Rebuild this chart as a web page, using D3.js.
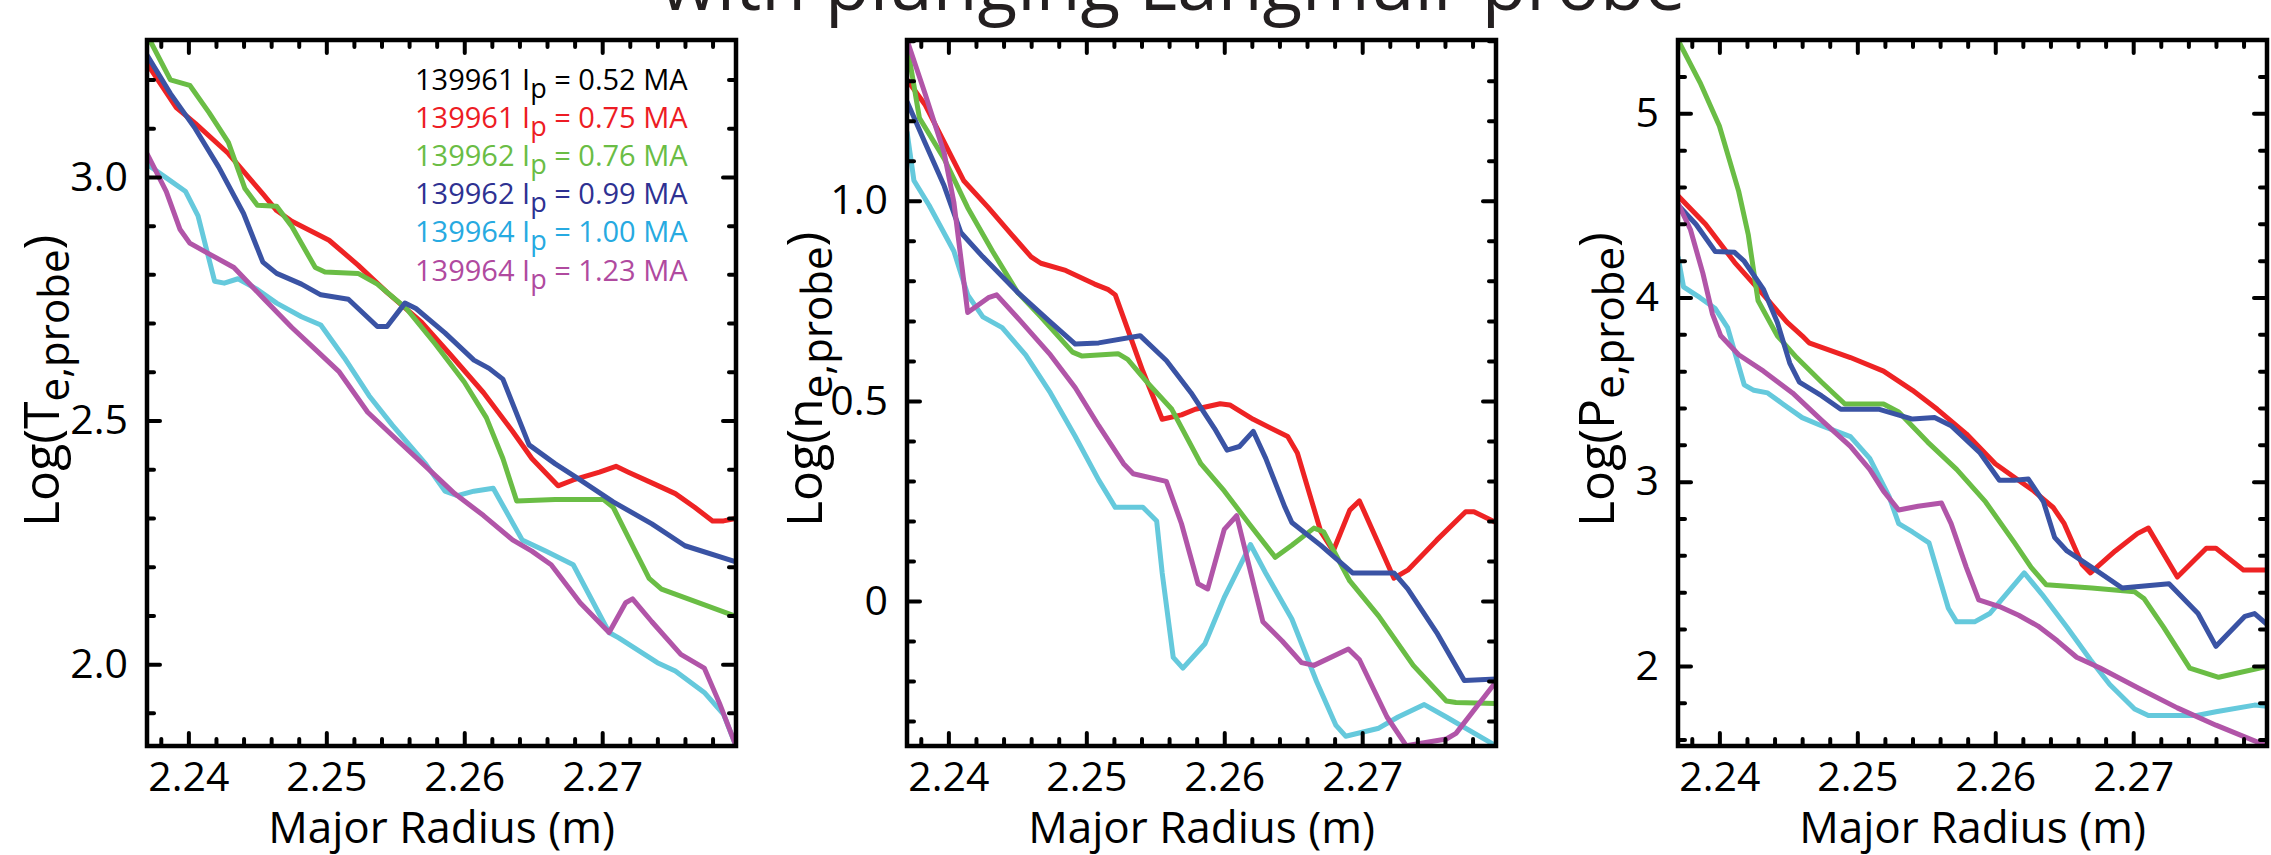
<!DOCTYPE html>
<html>
<head>
<meta charset="utf-8">
<script src="https://cdn.jsdelivr.net/npm/d3@7"></script>
<style>
  body { margin: 0; background: #fff; }
  svg { display: block; font-family: "Open Sans", sans-serif; }
</style>
</head>
<body>
<svg id="chart" width="2271" height="855"></svg>
<script>
// Legend entries (the 0.52 MA shot has no curve in the panels)
const shots = ["139961", "139961", "139962", "139962", "139964", "139964"];
const currents = ["0.52", "0.75", "0.76", "0.99", "1.00", "1.23"];
const legendColors = ["#000000", "#ed1c24", "#6abd45", "#2e3192", "#27aae1", "#b04a9f"];
const lineColors = ["#ee2324", "#6abd45", "#3a53a4", "#65c9dc", "#b155a8"];

// Tick values
const xMajor = [2.24, 2.25, 2.26, 2.27];
const teMajor = [2.0, 2.5, 3.0];
const neMajor = [0, 0.5, 1.0];
const peMajor = [2, 3, 4, 5];

// Log(Te,probe) vs major radius
const teRed = [[2.2370,3.233],[2.2391,3.143],[2.2405,3.110],[2.2429,3.048],[2.2454,2.965],[2.2464,2.931],[2.2475,2.909],[2.2502,2.870],[2.2523,2.819],[2.2544,2.763],[2.2569,2.702],[2.2590,2.635],[2.2614,2.557],[2.2635,2.478],[2.2649,2.422],[2.2668,2.366],[2.2679,2.378],[2.2698,2.394],[2.2710,2.406],[2.2719,2.394],[2.2736,2.372],[2.2753,2.350],[2.2767,2.322],[2.2780,2.294],[2.2788,2.294],[2.2797,2.299]];
const teGreen = [[2.2372,3.281],[2.2387,3.199],[2.2401,3.188],[2.2415,3.132],[2.2429,3.071],[2.2441,2.976],[2.2450,2.942],[2.2464,2.940],[2.2475,2.898],[2.2492,2.814],[2.2499,2.805],[2.2523,2.802],[2.2537,2.780],[2.2558,2.730],[2.2579,2.657],[2.2600,2.579],[2.2616,2.506],[2.2628,2.422],[2.2638,2.335],[2.2666,2.338],[2.2701,2.338],[2.2708,2.322],[2.2722,2.243],[2.2734,2.176],[2.2743,2.154],[2.2797,2.098]];
const teBlue = [[2.2370,3.250],[2.2387,3.171],[2.2405,3.099],[2.2422,3.020],[2.2440,2.925],[2.2454,2.825],[2.2464,2.802],[2.2482,2.780],[2.2496,2.758],[2.2516,2.749],[2.2537,2.693],[2.2544,2.693],[2.2557,2.741],[2.2565,2.730],[2.2586,2.680],[2.2607,2.624],[2.2618,2.607],[2.2628,2.585],[2.2647,2.450],[2.2666,2.411],[2.2684,2.378],[2.2708,2.333],[2.2736,2.288],[2.2760,2.243],[2.2797,2.210]];
const teCyan = [[2.2370,3.026],[2.2384,2.998],[2.2398,2.970],[2.2407,2.920],[2.2419,2.786],[2.2426,2.782],[2.2436,2.791],[2.2450,2.769],[2.2464,2.741],[2.2482,2.713],[2.2496,2.696],[2.2513,2.629],[2.2531,2.551],[2.2548,2.490],[2.2572,2.411],[2.2586,2.355],[2.2595,2.346],[2.2607,2.355],[2.2621,2.361],[2.2642,2.255],[2.2659,2.232],[2.2679,2.204],[2.2705,2.065],[2.2712,2.054],[2.2740,2.003],[2.2753,1.986],[2.2774,1.942],[2.2788,1.897],[2.2797,1.832]];
const teMagenta = [[2.2370,3.048],[2.2384,2.970],[2.2394,2.892],[2.2401,2.864],[2.2415,2.842],[2.2433,2.814],[2.2454,2.752],[2.2475,2.691],[2.2492,2.646],[2.2509,2.601],[2.2530,2.517],[2.2551,2.461],[2.2572,2.406],[2.2593,2.350],[2.2614,2.305],[2.2635,2.255],[2.2649,2.232],[2.2663,2.204],[2.2684,2.126],[2.2705,2.065],[2.2717,2.126],[2.2722,2.134],[2.2736,2.087],[2.2757,2.020],[2.2774,1.992],[2.2785,1.920],[2.2797,1.832]];

// Log(ne,probe) vs major radius
const neRed = [[2.2370,1.303],[2.2383,1.241],[2.2397,1.146],[2.2411,1.051],[2.2429,0.983],[2.2446,0.915],[2.2460,0.860],[2.2467,0.844],[2.2485,0.826],[2.2506,0.792],[2.2516,0.778],[2.2521,0.765],[2.2541,0.574],[2.2555,0.454],[2.2569,0.465],[2.2579,0.479],[2.2597,0.493],[2.2604,0.490],[2.2621,0.454],[2.2646,0.411],[2.2653,0.370],[2.2670,0.173],[2.2679,0.125],[2.2691,0.227],[2.2698,0.250],[2.2723,0.057],[2.2733,0.077],[2.2754,0.152],[2.2775,0.223],[2.2781,0.223],[2.2797,0.196]];
const neGreen = [[2.2370,1.391],[2.2379,1.207],[2.2397,1.105],[2.2414,0.983],[2.2432,0.874],[2.2450,0.772],[2.2467,0.710],[2.2490,0.622],[2.2497,0.612],[2.2523,0.618],[2.2530,0.604],[2.2544,0.547],[2.2562,0.479],[2.2583,0.343],[2.2600,0.275],[2.2618,0.193],[2.2637,0.109],[2.2649,0.139],[2.2665,0.182],[2.2672,0.173],[2.2691,0.050],[2.2712,-0.038],[2.2737,-0.161],[2.2761,-0.250],[2.2768,-0.254],[2.2797,-0.256]];
const neBlue = [[2.2370,1.248],[2.2383,1.146],[2.2397,1.037],[2.2409,0.921],[2.2425,0.860],[2.2450,0.772],[2.2474,0.697],[2.2492,0.642],[2.2509,0.645],[2.2539,0.663],[2.2558,0.601],[2.2576,0.520],[2.2593,0.431],[2.2602,0.377],[2.2611,0.386],[2.2621,0.424],[2.2630,0.357],[2.2644,0.234],[2.2649,0.196],[2.2670,0.139],[2.2693,0.070],[2.2723,0.070],[2.2733,0.030],[2.2754,-0.079],[2.2774,-0.199],[2.2797,-0.195]];
const neCyan = [[2.2370,1.173],[2.2375,1.051],[2.2386,0.989],[2.2404,0.874],[2.2414,0.765],[2.2425,0.710],[2.2439,0.683],[2.2456,0.615],[2.2474,0.520],[2.2492,0.411],[2.2509,0.302],[2.2521,0.234],[2.2541,0.234],[2.2551,0.200],[2.2555,0.070],[2.2563,-0.141],[2.2570,-0.168],[2.2586,-0.107],[2.2600,0.009],[2.2619,0.141],[2.2630,0.070],[2.2649,-0.045],[2.2667,-0.202],[2.2681,-0.311],[2.2688,-0.338],[2.2712,-0.318],[2.2726,-0.290],[2.2745,-0.259],[2.2761,-0.290],[2.2797,-0.362]];
const neMagenta = [[2.2370,1.402],[2.2383,1.269],[2.2397,1.119],[2.2404,0.996],[2.2414,0.721],[2.2429,0.758],[2.2435,0.765],[2.2453,0.697],[2.2474,0.615],[2.2492,0.533],[2.2509,0.438],[2.2527,0.343],[2.2534,0.318],[2.2558,0.299],[2.2569,0.193],[2.2581,0.043],[2.2588,0.030],[2.2600,0.179],[2.2609,0.213],[2.2628,-0.052],[2.2642,-0.100],[2.2656,-0.154],[2.2665,-0.161],[2.2690,-0.120],[2.2698,-0.147],[2.2718,-0.290],[2.2732,-0.362],[2.2761,-0.345],[2.2768,-0.331],[2.2797,-0.202]];

// Log(Pe,probe) vs major radius
const peRed = [[2.2370,4.552],[2.2390,4.398],[2.2411,4.191],[2.2432,4.014],[2.2449,3.866],[2.2460,3.792],[2.2465,3.754],[2.2495,3.674],[2.2519,3.600],[2.2540,3.496],[2.2558,3.393],[2.2579,3.260],[2.2600,3.097],[2.2614,3.023],[2.2628,2.949],[2.2642,2.860],[2.2650,2.772],[2.2663,2.550],[2.2669,2.505],[2.2687,2.624],[2.2703,2.718],[2.2711,2.748],[2.2732,2.482],[2.2753,2.639],[2.2760,2.639],[2.2780,2.520],[2.2797,2.520]];
const peGreen = [[2.2370,5.398],[2.2386,5.167],[2.2400,4.931],[2.2414,4.576],[2.2421,4.339],[2.2428,3.984],[2.2442,3.792],[2.2456,3.674],[2.2474,3.541],[2.2491,3.422],[2.2519,3.422],[2.2530,3.378],[2.2551,3.215],[2.2572,3.067],[2.2593,2.890],[2.2614,2.668],[2.2626,2.535],[2.2637,2.440],[2.2670,2.423],[2.2701,2.402],[2.2708,2.364],[2.2722,2.210],[2.2741,1.988],[2.2762,1.938],[2.2797,1.997]];
const peBlue = [[2.2370,4.502],[2.2383,4.398],[2.2397,4.250],[2.2411,4.245],[2.2418,4.197],[2.2432,4.044],[2.2442,3.866],[2.2451,3.644],[2.2458,3.541],[2.2474,3.467],[2.2488,3.393],[2.2516,3.393],[2.2540,3.340],[2.2556,3.348],[2.2568,3.304],[2.2589,3.156],[2.2603,3.008],[2.2614,3.008],[2.2624,3.014],[2.2635,2.890],[2.2643,2.698],[2.2652,2.624],[2.2670,2.535],[2.2692,2.423],[2.2726,2.446],[2.2747,2.284],[2.2760,2.106],[2.2781,2.269],[2.2788,2.284],[2.2797,2.225]];
const peCyan = [[2.2370,4.221],[2.2374,4.058],[2.2386,3.999],[2.2397,3.940],[2.2406,3.836],[2.2418,3.526],[2.2425,3.496],[2.2435,3.482],[2.2446,3.422],[2.2460,3.348],[2.2474,3.304],[2.2495,3.245],[2.2509,3.127],[2.2523,2.920],[2.2530,2.772],[2.2540,2.727],[2.2552,2.668],[2.2566,2.313],[2.2572,2.239],[2.2585,2.239],[2.2596,2.284],[2.2621,2.505],[2.2634,2.387],[2.2652,2.210],[2.2669,2.033],[2.2683,1.899],[2.2701,1.766],[2.2711,1.731],[2.2746,1.731],[2.2760,1.751],[2.2788,1.787],[2.2797,1.781]];
const peMagenta = [[2.2370,4.511],[2.2379,4.369],[2.2388,4.132],[2.2395,3.910],[2.2401,3.792],[2.2414,3.689],[2.2432,3.600],[2.2453,3.482],[2.2474,3.334],[2.2495,3.192],[2.2509,3.067],[2.2519,2.949],[2.2530,2.846],[2.2544,2.867],[2.2561,2.884],[2.2568,2.772],[2.2579,2.535],[2.2588,2.358],[2.2603,2.322],[2.2617,2.275],[2.2631,2.216],[2.2645,2.136],[2.2659,2.047],[2.2676,1.988],[2.2704,1.879],[2.2732,1.772],[2.2760,1.678],[2.2797,1.565]];

// Layout
const panelTop = 40, panelW = 589, panelH = 706;
const labelFont = 41;

const panels = [
    { left: 147, letter: "T", series: [teRed, teGreen, teBlue, teCyan, teMagenta],
      yDomain: [1.832, 3.281], major: teMajor, minorStep: 0.1, fmt: d3.format(".1f"), titleOffset: 88, legend: true },
    { left: 907, letter: "n", series: [neRed, neGreen, neBlue, neCyan, neMagenta],
      yDomain: [-0.3625, 1.402], major: neMajor, minorStep: 0.1, fmt: d => d === 0 ? "0" : d3.format(".1f")(d), titleOffset: 85 },
    { left: 1678, letter: "P", series: [peRed, peGreen, peBlue, peCyan, peMagenta],
      yDomain: [1.565, 5.398], major: peMajor, minorStep: 0.2, fmt: d3.format("d"), titleOffset: 64 }
];

const svg = d3.select("#chart");

// Title (only its lower part is inside the picture)
svg.append("text")
    .attr("x", 1173)
    .attr("y", 10)
    .attr("text-anchor", "middle")
    .attr("font-size", 73)
    .attr("fill", "#231f20")
    .text("with plunging Langmuir probe");

const xScale = d3.scaleLinear().domain([2.237, 2.2797]).range([0, panelW]);
const xMinor = d3.range(2.238, 2.2795, 0.002).filter(v => !xMajor.some(m => Math.abs(m - v) < 1e-6));

function styleAxis(g) {
    g.select(".domain").remove();
    g.selectAll("line")
        .attr("stroke", "#000")
        .attr("stroke-width", 4)
        .attr("stroke-linecap", "round");
    // drop the empty labels of the unlabelled tick sets
    g.selectAll("text").filter(function() { return this.textContent === ""; }).remove();
    g.selectAll("text")
        .attr("fill", "#000")
        .attr("font-size", labelFont)
        .attr("font-family", "'Open Sans', sans-serif");
}

panels.forEach(function(p, i) {
    const g = svg.append("g")
        .attr("transform", "translate(" + p.left + "," + panelTop + ")");

    const yScale = d3.scaleLinear().domain(p.yDomain).range([panelH, 0]);
    const yMinor = d3.range(Math.ceil(p.yDomain[0] / p.minorStep) * p.minorStep, p.yDomain[1], p.minorStep)
        .filter(v => !p.major.some(m => Math.abs(m - v) < 1e-6));

    // Clip the curves to the frame
    g.append("clipPath").attr("id", "clip" + i)
        .append("rect").attr("width", panelW).attr("height", panelH);

    const line = d3.line().x(d => xScale(d[0])).y(d => yScale(d[1]));

    g.append("g").attr("clip-path", "url(#clip" + i + ")")
        .selectAll("path")
        .data(p.series)
        .enter().append("path")
        .attr("d", line)
        .attr("fill", "none")
        .attr("stroke", (d, k) => lineColors[k])
        .attr("stroke-width", 5)
        .attr("stroke-linejoin", "round");

    // Ticks on all four sides, pointing inward
    g.append("g").attr("transform", "translate(0," + panelH + ")")
        .call(d3.axisBottom(xScale).tickValues(xMajor).tickSize(-13).tickPadding(16).tickFormat(d3.format(".2f")))
        .call(styleAxis);
    g.append("g").attr("transform", "translate(0," + panelH + ")")
        .call(d3.axisBottom(xScale).tickValues(xMinor).tickSize(-7).tickFormat(""))
        .call(styleAxis);
    g.append("g")
        .call(d3.axisTop(xScale).tickValues(xMajor).tickSize(-13).tickFormat(""))
        .call(styleAxis);
    g.append("g")
        .call(d3.axisTop(xScale).tickValues(xMinor).tickSize(-7).tickFormat(""))
        .call(styleAxis);

    g.append("g")
        .call(d3.axisLeft(yScale).tickValues(p.major).tickSize(-13).tickPadding(19).tickFormat(p.fmt))
        .call(styleAxis);
    g.append("g")
        .call(d3.axisLeft(yScale).tickValues(yMinor).tickSize(-7).tickFormat(""))
        .call(styleAxis);
    g.append("g").attr("transform", "translate(" + panelW + ",0)")
        .call(d3.axisRight(yScale).tickValues(p.major).tickSize(-13).tickFormat(""))
        .call(styleAxis);
    g.append("g").attr("transform", "translate(" + panelW + ",0)")
        .call(d3.axisRight(yScale).tickValues(yMinor).tickSize(-7).tickFormat(""))
        .call(styleAxis);

    // Frame
    g.append("rect")
        .attr("width", panelW)
        .attr("height", panelH)
        .attr("fill", "none")
        .attr("stroke", "#000")
        .attr("stroke-width", 4.5);

    // X axis title
    g.append("text")
        .attr("x", panelW / 2)
        .attr("y", 803)
        .attr("text-anchor", "middle")
        .attr("font-size", 44)
        .text("Major Radius (m)");

    // Y axis title with subscript
    const yt = g.append("text")
        .attr("transform", "translate(" + (-p.titleOffset) + "," + (527 - panelTop) + ") rotate(-90)")
        .attr("font-size", 50);
    yt.append("tspan").text("Log(" + p.letter);
    yt.append("tspan").attr("font-size", 42).attr("dy", 10).text("e,probe");
    yt.append("tspan").attr("dy", -10).text(")");

    if (p.legend) {
        const leg = g.append("g").attr("font-size", 29);
        shots.forEach(function(s, k) {
            const t = leg.append("text")
                .attr("x", 268)
                .attr("y", 50 + k * 38.1)
                .attr("fill", legendColors[k]);
            t.append("tspan").text(s + " I");
            t.append("tspan").attr("font-size", 27).attr("dy", 8).text("p");
            t.append("tspan").attr("dy", -8).text(" = " + currents[k] + " MA");
        });
    }
});
</script>
</body>
</html>
